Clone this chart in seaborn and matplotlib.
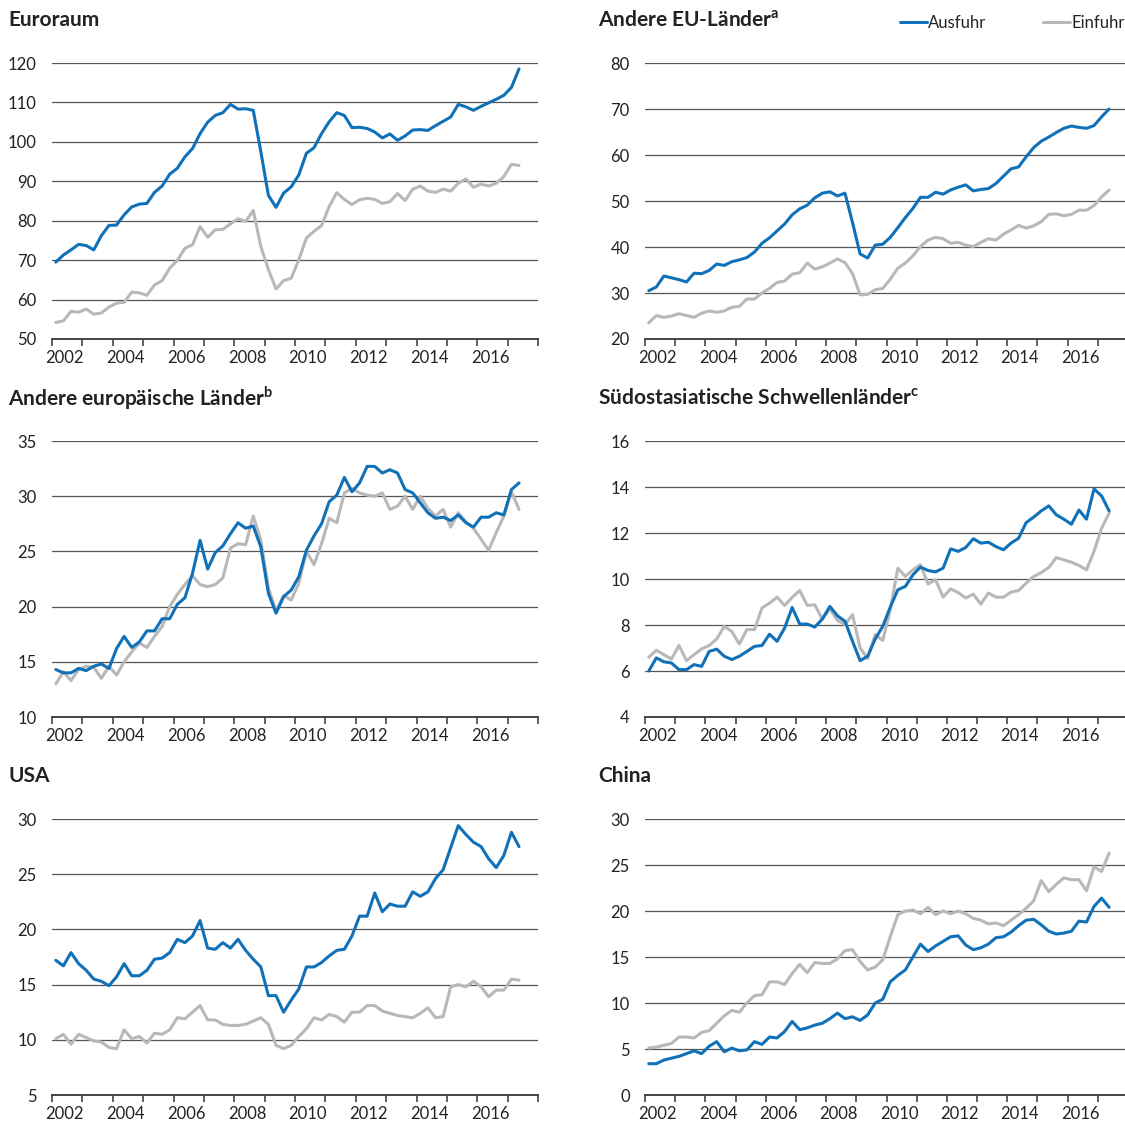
import matplotlib
matplotlib.use("Agg")
import matplotlib.pyplot as plt
import matplotlib.ticker as mticker
from matplotlib.lines import Line2D
import numpy as np
import pandas as pd
import seaborn as sns

# Quartale 2002Q1 .. 2017Q2 (Quartalsmitte)
quartale = [2002.125 + 0.25 * i for i in range(62)]

euro_aus = [69.5, 71.3, 72.6, 74.0, 73.7, 72.6, 76.2, 78.8, 78.9, 81.5, 83.5, 84.2, 84.4, 87.2, 88.8, 91.8,
            93.3, 96.2, 98.3, 102.1, 105.0, 106.7, 107.4, 109.5, 108.3, 108.4, 108.0, 97.5, 86.4, 83.4, 87.0,
            88.6, 91.6, 97.1, 98.5, 102.1, 105.1, 107.4, 106.7, 103.6, 103.7, 103.4, 102.5, 101.0, 102.0, 100.4,
            101.5, 103.0, 103.1, 102.9, 104.1, 105.2, 106.3, 109.5, 108.9, 108.0, 109.0, 109.9, 110.8, 111.8,
            113.8, 118.5]
euro_ein = [54.2, 54.6, 57.0, 56.8, 57.6, 56.3, 56.6, 58.1, 59.1, 59.3, 61.9, 61.7, 61.1, 63.7, 64.8, 68.0,
            69.9, 73.0, 73.9, 78.5, 75.8, 77.7, 77.8, 79.2, 80.5, 79.8, 82.6, 73.5, 67.6, 62.7, 64.8, 65.4, 70.1,
            75.6, 77.3, 78.8, 83.6, 87.1, 85.4, 84.1, 85.3, 85.7, 85.4, 84.4, 84.8, 86.9, 85.1, 88.0, 88.8, 87.5,
            87.2, 88.0, 87.5, 89.5, 90.6, 88.5, 89.3, 88.8, 89.5, 91.2, 94.3, 94.0]

eu_aus = [30.5, 31.3, 33.7, 33.3, 32.9, 32.4, 34.3, 34.2, 34.9, 36.3, 36.0, 36.8, 37.2, 37.7, 38.9, 40.8,
          42.0, 43.5, 45.0, 47.0, 48.3, 49.1, 50.7, 51.7, 52.0, 51.1, 51.7, 45.3, 38.5, 37.6, 40.4, 40.6, 42.1,
          44.2, 46.4, 48.4, 50.8, 50.8, 51.9, 51.5, 52.4, 53.0, 53.5, 52.2, 52.5, 52.7, 53.8, 55.4, 57.0, 57.4,
          59.6, 61.6, 63.0, 63.9, 64.9, 65.8, 66.3, 66.0, 65.8, 66.4, 68.3, 70.0]
eu_ein = [23.5, 25.1, 24.7, 25.0, 25.5, 25.1, 24.7, 25.6, 26.1, 25.8, 26.1, 26.9, 27.1, 28.7, 28.7, 30.0,
          31.0, 32.3, 32.6, 34.1, 34.4, 36.5, 35.2, 35.7, 36.5, 37.4, 36.6, 34.2, 29.6, 29.7, 30.7, 31.0, 33.0,
          35.4, 36.5, 38.1, 40.1, 41.5, 42.1, 41.8, 40.8, 41.0, 40.4, 40.1, 41.0, 41.8, 41.5, 42.8, 43.7, 44.7,
          44.1, 44.6, 45.5, 47.1, 47.2, 46.8, 47.1, 48.0, 48.0, 49.0, 50.9, 52.4]

europa_aus = [14.3, 14.0, 14.0, 14.4, 14.2, 14.6, 14.8, 14.4, 16.2, 17.3, 16.3, 16.8, 17.8, 17.8, 18.9, 18.9,
              20.2, 20.8, 23.0, 26.0, 23.4, 24.9, 25.5, 26.6, 27.6, 27.1, 27.3, 25.4, 21.2, 19.4, 20.9, 21.5,
              22.7, 25.1, 26.4, 27.5, 29.5, 30.1, 31.7, 30.4, 31.2, 32.7, 32.7, 32.1, 32.4, 32.1, 30.6, 30.3,
              29.4, 28.5, 28.0, 28.1, 27.8, 28.3, 27.6, 27.2, 28.1, 28.1, 28.5, 28.3, 30.6, 31.2]
europa_ein = [13.0, 14.1, 13.3, 14.3, 14.6, 14.5, 13.5, 14.6, 13.8, 15.0, 15.9, 16.7, 16.3, 17.3, 18.2, 20.0,
              21.1, 22.0, 22.8, 22.0, 21.8, 22.0, 22.6, 25.3, 25.7, 25.6, 28.2, 26.0, 21.7, 19.6, 21.0, 20.6,
              22.1, 25.0, 23.8, 25.7, 28.0, 27.6, 30.3, 30.7, 30.3, 30.1, 30.0, 30.3, 28.8, 29.1, 30.0, 28.8,
              30.0, 28.9, 28.2, 28.8, 27.2, 28.5, 27.7, 27.1, 26.1, 25.1, 26.7, 28.2, 30.4, 28.8]

asien_aus = [6.0, 6.57, 6.4, 6.35, 6.06, 6.06, 6.28, 6.2, 6.85, 6.95, 6.64, 6.5, 6.64, 6.85, 7.07, 7.11,
             7.6, 7.29, 7.87, 8.76, 8.04, 8.04, 7.91, 8.26, 8.81, 8.4, 8.16, 7.29, 6.45, 6.64, 7.39, 7.94,
             8.78, 9.53, 9.68, 10.18, 10.52, 10.37, 10.31, 10.47, 11.31, 11.2, 11.37, 11.75, 11.56, 11.6,
             11.41, 11.27, 11.56, 11.77, 12.45, 12.69, 12.96, 13.18, 12.79, 12.6, 12.38, 13.0, 12.6, 13.92,
             13.61, 12.96]
asien_ein = [6.6, 6.9, 6.71, 6.52, 7.11, 6.45, 6.71, 6.96, 7.11, 7.39, 7.94, 7.72, 7.17, 7.8, 7.8, 8.74,
             8.95, 9.21, 8.85, 9.2, 9.5, 8.85, 8.88, 8.26, 8.69, 8.2, 8.01, 8.45, 7.0, 6.54, 7.58, 7.33, 8.66,
             10.47, 10.11, 10.4, 10.62, 9.78, 9.97, 9.21, 9.57, 9.41, 9.17, 9.34, 8.91, 9.39, 9.21, 9.21, 9.43,
             9.5, 9.82, 10.11, 10.28, 10.5, 10.93, 10.83, 10.73, 10.59, 10.4, 11.2, 12.21, 12.86]

usa_aus = [17.2, 16.7, 17.9, 16.9, 16.3, 15.5, 15.3, 14.9, 15.7, 16.9, 15.8, 15.8, 16.3, 17.3, 17.4, 17.9,
           19.1, 18.8, 19.4, 20.8, 18.3, 18.2, 18.8, 18.3, 19.1, 18.1, 17.3, 16.6, 14.0, 14.0, 12.5, 13.6,
           14.6, 16.6, 16.6, 17.0, 17.6, 18.1, 18.2, 19.4, 21.2, 21.2, 23.3, 21.6, 22.3, 22.1, 22.1, 23.4,
           23.0, 23.4, 24.6, 25.4, 27.4, 29.4, 28.6, 27.9, 27.5, 26.4, 25.6, 26.7, 28.8, 27.5]
usa_ein = [10.1, 10.5, 9.6, 10.5, 10.2, 9.9, 9.8, 9.3, 9.2, 10.9, 10.1, 10.3, 9.7, 10.6, 10.5, 10.9, 12.0,
           11.9, 12.5, 13.1, 11.8, 11.8, 11.4, 11.3, 11.3, 11.4, 11.7, 12.0, 11.4, 9.5, 9.2, 9.5, 10.3, 11.0,
           12.0, 11.8, 12.3, 12.1, 11.6, 12.5, 12.5, 13.1, 13.1, 12.6, 12.4, 12.2, 12.1, 12.0, 12.4, 12.9,
           12.0, 12.1, 14.8, 15.0, 14.8, 15.3, 14.8, 13.9, 14.5, 14.5, 15.5, 15.4]

china_aus = [3.4, 3.4, 3.8, 4.0, 4.2, 4.5, 4.8, 4.5, 5.3, 5.8, 4.7, 5.1, 4.8, 4.9, 5.8, 5.5, 6.3, 6.2, 6.9,
             8.0, 7.1, 7.3, 7.6, 7.8, 8.3, 8.9, 8.3, 8.5, 8.1, 8.7, 10.0, 10.4, 12.3, 13.0, 13.6, 15.0, 16.4,
             15.6, 16.2, 16.7, 17.2, 17.3, 16.3, 15.8, 16.0, 16.4, 17.1, 17.2, 17.7, 18.4, 19.0, 19.1, 18.5,
             17.8, 17.5, 17.6, 17.8, 18.9, 18.8, 20.5, 21.4, 20.4]
china_ein = [5.1, 5.2, 5.4, 5.6, 6.3, 6.3, 6.2, 6.8, 7.0, 7.8, 8.6, 9.2, 9.0, 10.0, 10.8, 10.9, 12.3, 12.3,
             12.0, 13.2, 14.2, 13.3, 14.4, 14.3, 14.3, 14.8, 15.7, 15.8, 14.5, 13.6, 13.9, 14.7, 17.2, 19.6,
             20.0, 20.1, 19.7, 20.4, 19.6, 20.0, 19.7, 20.0, 19.7, 19.2, 19.0, 18.6, 18.7, 18.4, 19.0, 19.6,
             20.3, 21.1, 23.3, 22.1, 22.9, 23.6, 23.4, 23.4, 22.2, 24.8, 24.3, 26.3]

titel = ["Euroraum", r"Andere EU-Länder$^{\mathbf{a}}$", r"Andere europäische Länder$^{\mathbf{b}}$",
         r"Südostasiatische Schwellenländer$^{\mathbf{c}}$", "USA", "China"]
ausfuhr = [euro_aus, eu_aus, europa_aus, asien_aus, usa_aus, china_aus]
einfuhr = [euro_ein, eu_ein, europa_ein, asien_ein, usa_ein, china_ein]
y_bereiche = [(50, 120, 10), (20, 80, 10), (10, 35, 5), (4, 16, 2), (5, 30, 5), (0, 30, 5)]
jahr_labels = list(range(2002, 2017, 2))

BLAU = "#1071b8"
GRAU = "#b8b8b8"
W, H = 1125, 1128

sns.set_theme(style="white")
plt.rcParams['font.family'] = ['Lato', 'DejaVu Sans']
plt.rcParams['mathtext.fontset'] = 'custom'
plt.rcParams['mathtext.rm'] = 'Lato'
plt.rcParams['mathtext.bf'] = 'Lato:bold'
plt.rcParams['text.color'] = '#222222'

fig = plt.figure(figsize=(W / 100, H / 100), dpi=100)

spalten = [(52, 538), (645, 1128)]
zeilen = [(63, 339), (441, 717), (819, 1095)]
titel_x = [8, 598]

for k in range(6):
    r, c = divmod(k, 2)
    x0, x1 = spalten[c]
    yt, yb = zeilen[r]
    ax = fig.add_axes([x0 / W, 1 - yb / H, (x1 - x0) / W, (yb - yt) / H])

    df = pd.DataFrame({"Quartal": quartale, "Ausfuhr": ausfuhr[k], "Einfuhr": einfuhr[k]})
    sns.lineplot(data=df, x="Quartal", y="Einfuhr", ax=ax, color=GRAU, linewidth=2.2)
    sns.lineplot(data=df, x="Quartal", y="Ausfuhr", ax=ax, color=BLAU, linewidth=2.2)

    lo, hi, step = y_bereiche[k]
    ax.set_xlim(2002, 2018)
    ax.set_ylim(lo, hi)
    ax.set_yticks(np.arange(lo, hi + step / 2, step))
    ax.yaxis.grid(True, color="#555555", linewidth=0.9)
    ax.set_axisbelow(True)
    ax.set_xlabel("")
    ax.set_ylabel("")

    ax.xaxis.set_major_locator(mticker.FixedLocator(range(2002, 2019)))
    ax.xaxis.set_major_formatter(mticker.NullFormatter())
    ax.xaxis.set_minor_locator(mticker.FixedLocator([j + 0.42 for j in jahr_labels]))
    ax.xaxis.set_minor_formatter(mticker.FixedFormatter([str(j) for j in jahr_labels]))
    ax.tick_params(axis="x", which="major", direction="out", length=5, width=1.2,
                   color="#444444", bottom=True)
    ax.tick_params(axis="x", which="minor", length=0, pad=8, labelsize=12, labelcolor="#222222")
    ax.tick_params(axis="y", length=0, pad=11, labelsize=12, labelcolor="#222222")

    for s in ["top", "right", "left"]:
        ax.spines[s].set_visible(False)
    ax.spines["bottom"].set_color("#444444")
    ax.spines["bottom"].set_linewidth(1.4)

    fig.text(titel_x[c] / W, 1 - (yt - 43) / H, titel[k], fontsize=15, fontweight="bold",
             va="center", ha="left", color="#222222")

handles = [Line2D([], [], color=BLAU, linewidth=2.2), Line2D([], [], color=GRAU, linewidth=2.2)]
fig.legend(handles, ["Ausfuhr", "Einfuhr"], loc="center right", bbox_to_anchor=(1.0, 1 - 23 / H),
           ncol=2, frameon=False, fontsize=12, handlelength=1.6, handletextpad=0.1,
           columnspacing=3.4, borderaxespad=0.0, borderpad=0.0)

fig.savefig("out.png", dpi=100)
